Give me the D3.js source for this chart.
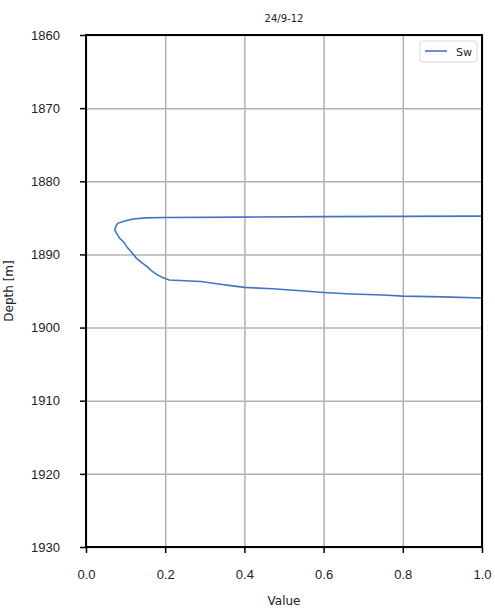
<!DOCTYPE html>
<html>
<head>
<meta charset="UTF-8">
<title>Sw log</title>
<style>
	body{margin:0;background:#fff;font-family:"DejaVu Sans",Verdana,sans-serif;}
	.axis path{display:none;}
	.axis line{stroke:#000;stroke-width:1.5;}
	.axis text{font-size:13px;fill:#222;}
	.grid line{stroke:#b4b0ae;stroke-width:1.5;}
	.grid path{display:none;}
</style>
</head>
<body>
<script src="https://cdn.jsdelivr.net/npm/d3@7"></script>
<script>
// depth [m] and Sw
var depth = [1884.76,1884.8,1884.83,1884.9,1884.95,1885.0,1885.15,1885.4,1885.75,1886.2,1886.7,1887.2,1887.8,1888.3,1888.7,1889.1,1889.5,1890.0,1890.5,1891.1,1891.7,1892.3,1892.8,1893.2,1893.5,1893.6,1893.7,1894.0,1894.3,1894.5,1894.7,1895.0,1895.2,1895.4,1895.55,1895.7,1895.8,1895.95];
var sw    = [1.0,0.8,0.6,0.4,0.2,0.15,0.12,0.1,0.08,0.075,0.073,0.078,0.085,0.095,0.1,0.105,0.112,0.12,0.127,0.14,0.155,0.167,0.18,0.195,0.21,0.25,0.29,0.33,0.37,0.4,0.47,0.55,0.6,0.67,0.75,0.8,0.9,1.0];
var xTicks = [0,0.2,0.4,0.6,0.8,1.0];
var yTicks = [1860,1870,1880,1890,1900,1910,1920,1930];

var W = 495, H = 608;
var margin = {top:35,right:13,bottom:61,left:86};
var width = W - margin.left - margin.right,
	height = H - margin.top - margin.bottom;

var svg = d3.select("body").append("svg")
	.attr("width",W).attr("height",H);
var g = svg.append("g")
	.attr("transform","translate("+margin.left+","+margin.top+")");

var x = d3.scaleLinear().domain([0,1]).range([0,width]);
var y = d3.scaleLinear().domain([1860,1930]).range([0,height]);

// grid
g.append("g").attr("class","grid")
	.call(d3.axisBottom(x).tickValues(xTicks).tickSize(height).tickFormat(""));
g.append("g").attr("class","grid")
	.call(d3.axisLeft(y).tickValues(yTicks).tickSize(-width).tickFormat(""));

// curve
var pts = depth.map(function(d,i){return [sw[i],d];});
g.append("path")
	.datum(pts)
	.attr("fill","none")
	.attr("stroke","#3f76c2")
	.attr("stroke-width",1.6)
	.attr("d",d3.line().x(function(d){return x(d[0]);}).y(function(d){return y(d[1]);}));

// frame
g.append("rect").attr("width",width).attr("height",height)
	.attr("fill","none").attr("stroke","#000").attr("stroke-width",2);

// axes
g.append("g").attr("class","axis")
	.attr("transform","translate(0,"+height+")")
	.call(d3.axisBottom(x).tickValues(xTicks).tickSize(6).tickPadding(17).tickFormat(d3.format(".1f")));
g.append("g").attr("class","axis")
	.call(d3.axisLeft(y).tickValues(yTicks).tickSize(6).tickPadding(20).tickFormat(d3.format("d")));

// labels
svg.append("text").attr("x",margin.left+width/2).attr("y",22)
	.attr("text-anchor","middle").style("font-size","10px").style("fill","#222").text("24/9-12");
svg.append("text").attr("x",margin.left+width/2).attr("y",605)
	.attr("text-anchor","middle").style("font-size","12px").style("fill","#222").text("Value");
svg.append("text").attr("transform","translate(13,"+(margin.top+height/2)+") rotate(-90)")
	.attr("text-anchor","middle").style("font-size","12px").style("fill","#222").text("Depth [m]");

// legend
var lg = g.append("g").attr("transform","translate("+(width-62)+",6)");
lg.append("rect").attr("width",57).attr("height",21).attr("rx",3)
	.attr("fill","#fff").attr("stroke","#d8d8d8");
lg.append("line").attr("x1",5).attr("x2",27).attr("y1",10).attr("y2",10)
	.attr("stroke","#3f76c2").attr("stroke-width",1.6);
lg.append("text").attr("x",36).attr("y",14.5).style("font-size","11px").style("fill","#222").text("Sw");
</script>
</body>
</html>
